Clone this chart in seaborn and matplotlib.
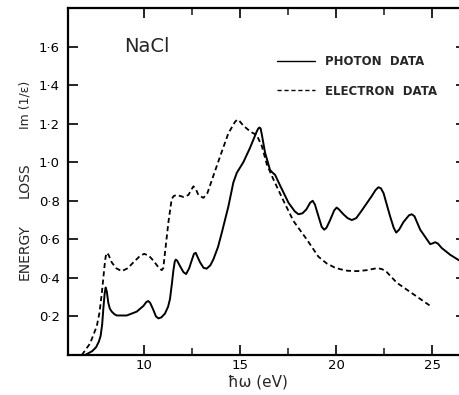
import matplotlib
matplotlib.use("Agg")
import matplotlib.pyplot as plt
import seaborn as sns
import pandas as pd
from matplotlib.lines import Line2D

# Photon data (solid): energy (eV), Im(1/eps)
photon_ev = [6.93, 7.30, 7.50, 7.65, 7.74, 7.82, 7.88, 7.95, 8.00, 8.06, 8.14, 8.22, 8.32,
             8.45, 8.58, 9.10, 9.62, 9.97, 10.12, 10.22, 10.32, 10.48, 10.62, 10.75, 10.90,
             11.09, 11.25, 11.35, 11.45, 11.53, 11.60, 11.65, 11.72, 11.88, 12.05, 12.19,
             12.35, 12.48, 12.60, 12.69, 12.78, 12.92, 13.10, 13.26, 13.45, 13.61, 13.85,
             14.05, 14.39, 14.65, 14.83, 15.17, 15.52, 15.87, 15.95, 16.01, 16.07, 16.13,
             16.30, 16.56, 16.70, 16.82, 17.08, 17.52, 17.85, 18.04, 18.25, 18.45, 18.65,
             18.78, 18.90, 19.08, 19.25, 19.38, 19.50, 19.69, 19.90, 20.03, 20.15, 20.38,
             20.60, 20.82, 21.05, 21.34, 21.86, 22.05, 22.20, 22.33, 22.47, 22.81, 23.00,
             23.13, 23.28, 23.51, 23.80, 23.94, 24.08, 24.38, 24.90, 25.05, 25.16, 25.30,
             25.50, 25.94, 26.42]
photon_val = [0.0, 0.02, 0.04, 0.07, 0.10, 0.16, 0.24, 0.32, 0.35, 0.33, 0.27, 0.24, 0.225,
              0.212, 0.205, 0.205, 0.225, 0.255, 0.275, 0.28, 0.27, 0.235, 0.20, 0.19, 0.195,
              0.215, 0.25, 0.29, 0.37, 0.44, 0.485, 0.495, 0.49, 0.46, 0.43, 0.42,
              0.45, 0.49, 0.525, 0.53, 0.51, 0.48, 0.452, 0.448, 0.465, 0.496, 0.56,
              0.635, 0.77, 0.895, 0.945, 1.00, 1.075, 1.16, 1.175, 1.18, 1.175, 1.145,
              1.05, 0.96, 0.945, 0.935, 0.88, 0.79, 0.745, 0.73, 0.735, 0.755, 0.79,
              0.80, 0.78, 0.72, 0.665, 0.65, 0.66, 0.70, 0.75, 0.765, 0.755, 0.73,
              0.71, 0.70, 0.71, 0.75, 0.825, 0.855, 0.87, 0.865, 0.84, 0.72, 0.66,
              0.635, 0.65, 0.69, 0.725, 0.73, 0.72, 0.65, 0.575, 0.58, 0.585, 0.578,
              0.555, 0.52, 0.49]

# Electron data (dashed)
electron_ev = [6.76, 7.19, 7.54, 7.68, 7.80, 7.94, 8.00, 8.06, 8.15, 8.32, 8.55, 8.84,
               9.15, 9.44, 9.75, 10.0, 10.25, 10.48, 10.75, 10.92, 11.00,
               11.09, 11.27, 11.44, 11.55, 11.70, 11.88, 12.05, 12.31, 12.45, 12.57, 12.70,
               12.83, 13.09, 13.30, 13.61, 13.96, 14.39, 14.74, 14.85, 14.91, 15.00, 15.17,
               15.52, 15.87, 16.13, 16.39, 16.74, 17.26, 17.78, 18.47, 19.08, 19.51,
               19.90, 20.21, 20.60, 21.08, 21.60, 22.00, 22.20, 22.40, 22.64, 23.16,
               24.03, 24.90]
electron_val = [0.0, 0.06, 0.15, 0.22, 0.32, 0.46, 0.51, 0.53, 0.52, 0.48, 0.45, 0.435,
                0.45, 0.48, 0.51, 0.525, 0.515, 0.49, 0.455, 0.44, 0.45,
                0.53, 0.69, 0.81, 0.825, 0.83, 0.825, 0.82, 0.83, 0.855, 0.875, 0.86,
                0.83, 0.815, 0.84, 0.93, 1.03, 1.15, 1.21, 1.22, 1.22, 1.21, 1.19,
                1.16, 1.14, 1.085, 0.99, 0.91, 0.80, 0.695, 0.60, 0.51, 0.475,
                0.455, 0.445, 0.437, 0.435, 0.44, 0.448, 0.45, 0.445, 0.43, 0.375,
                0.315, 0.255]

yticks = [0.2, 0.4, 0.6, 0.8, 1.0, 1.2, 1.4, 1.6]
ytick_labels = ["0·2", "0·4", "0·6", "0·8", "1·0", "1·2", "1·4", "1·6"]
xticks = [10, 15, 20, 25]
xtick_labels = ["10", "15", "20", "25"]
xminor = [12.5, 17.5, 22.5]

sns.set_style("white")
plt.rcParams['font.family'] = ['DejaVu Sans']

W, H = 459, 395
fig = plt.figure(figsize=(W / 100, H / 100), dpi=100)
ax = fig.add_axes([68 / W, 40 / H, (W - 68) / W, 347 / H])

df_p = pd.DataFrame({"ev": photon_ev, "val": photon_val})
df_e = pd.DataFrame({"ev": electron_ev, "val": electron_val})
sns.lineplot(data=df_p, x="ev", y="val", ax=ax, sort=False, color="black",
             lw=1.4, estimator=None)
sns.lineplot(data=df_e, x="ev", y="val", ax=ax, sort=False, color="black",
             lw=1.3, estimator=None, linestyle=(0, (2.8, 1.8)))

ax.set_xlim(6.04, 26.4)
ax.set_ylim(0, 1.80)
ax.set_xticks(xticks)
ax.set_xticklabels(xtick_labels, fontsize=9.5)
ax.set_xticks(xminor, minor=True)
ax.set_yticks(yticks)
ax.set_yticklabels(ytick_labels, fontsize=9.5)
ax.set_xlabel("")
ax.set_ylabel("")

for s in ["left", "bottom", "top"]:
    ax.spines[s].set_linewidth(1.6)
    ax.spines[s].set_color("black")
ax.spines["right"].set_visible(False)

ax.tick_params(axis="x", which="major", direction="in", length=7, width=1.2,
               top=True, bottom=True, pad=3, colors="black")
ax.tick_params(axis="x", which="minor", direction="in", length=5, width=1.2,
               top=True, bottom=True)
ax.tick_params(axis="y", which="major", direction="in", length=7, width=1.2,
               left=True, right=False, pad=6, colors="black")

# short ticks on the right edge
ax2 = ax.twinx()
ax2.set_ylim(ax.get_ylim())
ax2.set_yticks(yticks)
ax2.set_yticklabels([])
for s in ax2.spines.values():
    s.set_visible(False)
ax2.tick_params(axis="y", direction="in", length=2.5, width=1.2, right=True,
                colors="black")

# Legend
handles = [Line2D([], [], color="black", lw=1.0),
           Line2D([], [], color="black", lw=1.0, linestyle=(0, (3, 2)))]
leg = ax.legend(handles, ["PHOTON  DATA", "ELECTRON  DATA"], loc="upper left",
                bbox_to_anchor=(277 / W, (H - 55) / H), bbox_transform=fig.transFigure,
                frameon=False, borderpad=0, borderaxespad=0, handlelength=3.2,
                handletextpad=0.9, labelspacing=1.4,
                prop={"size": 8.5, "weight": "bold"})

ax.text(124 / W, (H - 46) / H, "NaCl", transform=fig.transFigure, fontsize=14,
        ha="left", va="center")

# Y label pieces
fig.text(25 / W, (H - 252) / H, "ENERGY", rotation=90, ha="center", va="center",
         fontsize=10)
fig.text(25 / W, (H - 180) / H, "LOSS", rotation=90, ha="center", va="center",
         fontsize=10)
fig.text(25 / W, (H - 105) / H, "Im (1/ε)", rotation=90, ha="center", va="center",
         fontsize=9)
# X label
fig.text(258 / W, (H - 382) / H, "ħω (eV)", ha="center", va="center", fontsize=11)

fig.savefig("out.png", dpi=100)
